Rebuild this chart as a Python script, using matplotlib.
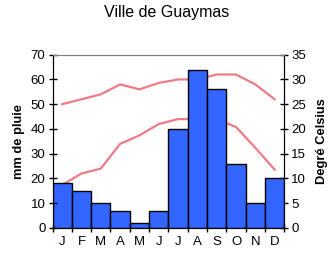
import matplotlib
matplotlib.use("Agg")
import matplotlib.pyplot as plt
import numpy as np

months = ["J", "F", "M", "A", "M", "J", "J", "A", "S", "O", "N", "D"]
rain_mm = [18, 15, 10, 7, 2, 7, 40, 64, 56, 26, 10, 20]
temp_max = [25, 26, 27, 29, 28, 29.3, 30, 30, 31, 31, 29, 26]
temp_min = [8.7, 11, 12, 17, 18.7, 21, 22, 22, 22, 20.4, 16.2, 11.8]

plt.rcParams['font.family'] = ['Liberation Sans', 'DejaVu Sans']

fig = plt.figure(figsize=(3.34, 2.60), dpi=100)
ax = fig.add_axes([52.5/334, 1-228/260, (284.3-52.5)/334, (228-54.7)/260])
ax2 = ax.twinx()
ax.set_zorder(ax2.get_zorder() + 1)
ax.patch.set_visible(False)

x = np.arange(len(months))
ax.bar(x, rain_mm, width=1.0, color="#3366FF", edgecolor="black", linewidth=1.0)
ax2.plot(x, temp_max, color="#F07A85", linewidth=1.6)
ax2.plot(x, temp_min, color="#F07A85", linewidth=1.6)

ax.set_xlim(-0.5, 11.5)
ax.set_ylim(0, 70)
ax2.set_ylim(0, 35)
ax.set_yticks(np.arange(0, 71, 10))
ax2.set_yticks(np.arange(0, 36, 5))

ax.set_xticks(np.arange(-0.5, 12, 1))
ax.set_xticklabels([])
ax.set_xticks(x, minor=True)
ax.set_xticklabels(months, minor=True)

for a in (ax, ax2):
    a.tick_params(axis='both', which='major', direction='inout', length=6, width=1,
                  labelsize=9.5, pad=2)
    a.tick_params(axis='x', which='minor', length=0, labelsize=9.5, pad=6)
    a.spines['top'].set_color('#808080')
    for s in ('left', 'right', 'bottom'):
        a.spines[s].set_color('black')

ax.set_ylabel("mm de pluie", fontsize=9.3, fontweight='bold', labelpad=4)
ax2.set_ylabel("Degré Celsius", fontsize=9.3, fontweight='bold', labelpad=7)
fig.suptitle("Ville de Guaymas", fontsize=11.5, x=167/334, y=1-12/260, va='center')

fig.savefig("out.png", dpi=100, facecolor="white")
